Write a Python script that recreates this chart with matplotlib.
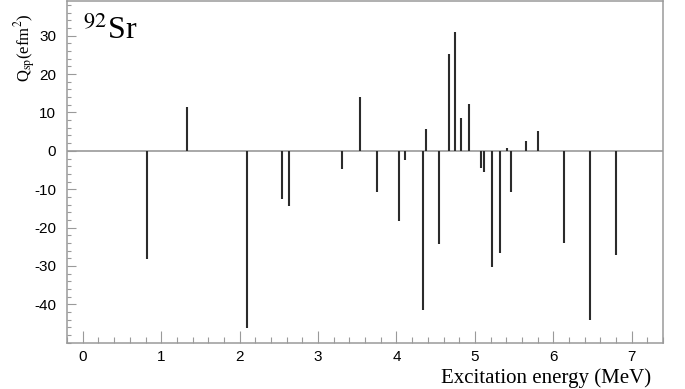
import matplotlib
matplotlib.use("Agg")
import matplotlib.pyplot as plt
from matplotlib.ticker import MultipleLocator

# excitation energy (MeV) and single-particle quadrupole moment Q_sp (e fm^2)
energies = [0.815, 1.333, 2.093, 2.544, 2.624, 3.30, 3.54, 3.758, 4.03, 4.115,
            4.344, 4.378, 4.544, 4.667, 4.748, 4.824, 4.926, 5.075, 5.11, 5.214,
            5.32, 5.414, 5.465, 5.647, 5.81, 6.14, 6.463, 6.80]
q_sp = [-28.2, 11.4, -46.1, -12.6, -14.5, -4.7, 14.1, -10.8, -18.4, -2.5,
        -41.6, 5.8, -24.4, 25.3, 30.9, 8.5, 12.2, -4.4, -5.6, -30.3,
        -26.6, 0.7, -10.6, 2.6, 5.2, -24.0, -44.0, -27.2]
x_ticks = [0, 1, 2, 3, 4, 5, 6, 7]
y_ticks = [-40, -30, -20, -10, 0, 10, 20, 30]

plt.rcParams['mathtext.fontset'] = 'stix'
plt.rcParams['axes.unicode_minus'] = False
grey = '#9a9a9a'

fig = plt.figure(figsize=(6.85, 3.89), dpi=100)
ax = fig.add_axes([0.098, 0.119, 0.870, 0.878])

ax.axhline(0, color=grey, lw=1.2, zorder=1)
ax.vlines(energies, 0, q_sp, color='#2b2b2b', lw=1.5, zorder=2)

ax.set_xlim(-0.2, 7.4)
ax.set_ylim(-50, 39)
ax.set_xticks(x_ticks)
ax.set_yticks(y_ticks)
ax.xaxis.set_minor_locator(MultipleLocator(0.2))
ax.yaxis.set_minor_locator(MultipleLocator(2))

for s in ax.spines.values():
    s.set_color(grey)
    s.set_linewidth(1.1)

ax.tick_params(axis='x', which='major', direction='in', length=9, width=0.8,
               color=grey, pad=5, labelsize=11, labelfontfamily='Liberation Sans')
ax.tick_params(axis='x', which='minor', direction='in', length=4.5, width=0.8, color=grey)
ax.tick_params(axis='y', which='major', direction='in', length=6.3, width=0.8,
               color=grey, pad=8, labelsize=11, labelfontfamily='Liberation Sans')
ax.tick_params(axis='y', which='minor', direction='in', length=3, width=0.8, color=grey)

ax.set_xlabel('Excitation energy (MeV)', family='Liberation Serif', fontsize=15,
              ha='right', x=0.98, labelpad=3)
ax.set_ylabel(r'Q$_{\rm sp}$(efm$^{2}$)', family='Liberation Serif', fontsize=12,
              ha='right')
ax.yaxis.set_label_coords(-0.049, 0.965)

ax.text(0.027, 0.889, r'$^{92}$Sr', transform=ax.transAxes, fontsize=23,
        family='Liberation Serif', ha='left', va='baseline')

fig.savefig('out.png', dpi=100)
